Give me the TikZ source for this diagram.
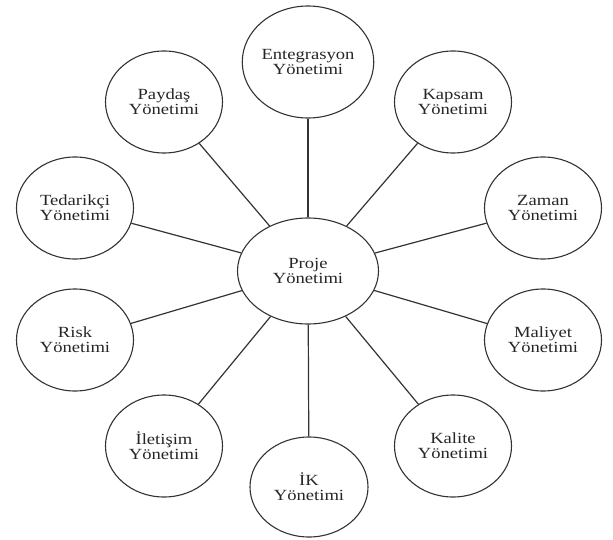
\documentclass[tikz,border=0pt]{standalone}
\usepackage{fontspec}
\setmainfont{Liberation Serif}[FakeStretch=1.2]
\usetikzlibrary{shapes.geometric}
\tikzset{
  bubble/.style={ellipse, draw=black!80, line width=1.1pt, inner sep=0pt,
    minimum width=117pt, minimum height=102pt, align=center,
    font=\fontsize{15.5}{15}\selectfont, text=black!85},
  link/.style={draw=black!80, line width=1.2pt}
}
\begin{document}
\begin{tikzpicture}[x=1pt,y=-1pt]
\useasboundingbox (0,0) rectangle (613,540);
\node[bubble, minimum width=141pt, minimum height=106pt] (proje) at (308,271) {Proje\\Yönetimi};
\node[bubble, minimum width=130pt, minimum height=112pt] (ent) at (308,62) {Entegrasyon\\Yönetimi};
\node[bubble] (kap) at (453,102) {Kapsam\\Yönetimi};
\node[bubble] (zam) at (543,208) {Zaman\\Yönetimi};
\node[bubble] (mal) at (543,340) {Maliyet\\Yönetimi};
\node[bubble] (kal) at (453,446) {Kalite\\Yönetimi};
\node[bubble, minimum width=118pt, minimum height=100pt] (ik) at (309,487) {İK\\Yönetimi};
\node[bubble] (ile) at (164,446) {İletişim\\Yönetimi};
\node[bubble] (ris) at (75,340) {Risk\\Yönetimi};
\node[bubble] (ted) at (75,208) {Tedarikçi\\Yönetimi};
\node[bubble] (pay) at (164,102) {Paydaş\\Yönetimi};
\foreach \n in {ent,kap,zam,mal,kal,ik,ile,ris,ted,pay}
  \draw[link] (proje) -- (\n);
\end{tikzpicture}
\end{document}
